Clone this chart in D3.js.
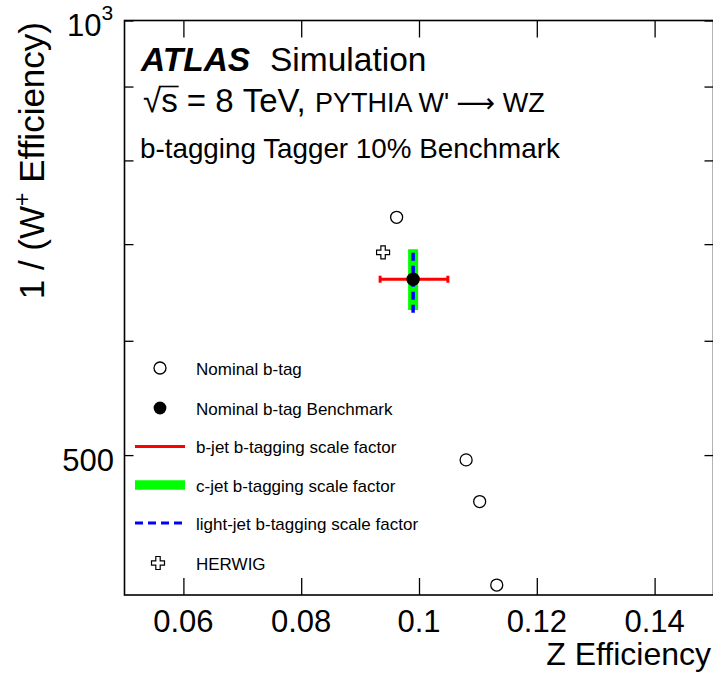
<!DOCTYPE html>
<html><head><meta charset="utf-8">
<script src="https://cdn.jsdelivr.net/npm/d3@7"></script>
<style>body{margin:0;background:#fff}svg{display:block}text{font-family:"Liberation Sans",Arial,sans-serif;fill:#000;white-space:pre}</style>
</head><body><svg id="c" width="713" height="673"></svg>
<script>
// ---- data ----
const nominalX = [0.0962, 0.1080, 0.1103, 0.1132];
const nominalY = [730.6, 496.2, 464.3, 406.4];
const benchX = [0.0990];
const benchY = [661.9];
const bjetRangeX = [0.0934, 0.1049];
const cjetRangeY = [630.2, 694.3];
const ljetRangeY = [627.5, 694.5];
const herwigX = [0.0939];
const herwigY = [690.9];
const xTicks = [0.06, 0.08, 0.1, 0.12, 0.14];
const xTickLabels = ["0.06", "0.08", "0.1", "0.12", "0.14"];
const yTicks = [500, 600, 700, 800, 900, 1000];
const legendLabels = ["Nominal b-tag", "Nominal b-tag Benchmark", "b-jet b-tagging scale factor",
  "c-jet b-tagging scale factor", "light-jet b-tagging scale factor", "HERWIG"];

// ---- layout ----
const L = 124.5, R = 713.5, T = 20.5, B = 595;
const x = d3.scaleLinear().domain([0.05, 0.15]).range([L, R]);
const y = d3.scaleLog().domain([400, 1000]).range([B, T]);
const svg = d3.select("#c");
const g = svg.append("g");

svg.append("defs").append("clipPath").attr("id","clip").append("rect")
  .attr("x",L).attr("y",T).attr("width",R-L).attr("height",B-T);

const axB = d3.axisBottom(x).tickValues(xTicks).tickSizeInner(-17).tickSizeOuter(0).tickFormat("");
const axT = d3.axisTop(x).tickValues(xTicks).tickSizeInner(-17).tickSizeOuter(0).tickFormat("");
const axL = d3.axisLeft(y).tickValues(yTicks).tickSizeInner(-9).tickSizeOuter(0).tickFormat("");
const axR = d3.axisRight(y).tickValues(yTicks).tickSizeInner(-9).tickSizeOuter(0).tickFormat("");
[[axB,`translate(0,${B})`],[axT,`translate(0,${T})`],[axL,`translate(${L},0)`],[axR,`translate(${R},0)`]]
 .forEach(([a,t])=>{const s=g.append("g").attr("transform",t).call(a);
   s.select(".domain").remove(); s.selectAll("line").attr("stroke","#000").attr("stroke-width",1.3);});

g.append("rect").attr("x",L).attr("y",T).attr("width",R-L).attr("height",B-T)
 .attr("fill","none").attr("stroke","#000").attr("stroke-width",1.6);

// tick labels
g.selectAll(".xl").data(xTicks).enter().append("text")
 .attr("x",d=>x(d)).attr("y",632).attr("text-anchor","middle").attr("font-size",31)
 .text((d,i)=>xTickLabels[i]);
g.append("text").attr("x",114).attr("y",y(500)+16).attr("text-anchor","end").attr("font-size",31).text("500");
const t10 = g.append("text").attr("x",67).attr("y",36).attr("font-size",31);
t10.append("tspan").text("10");
t10.append("tspan").attr("font-size",21).attr("dy",-16).text("3");

// axis titles
g.append("text").attr("x",711).attr("y",665).attr("text-anchor","end").attr("font-size",32).text("Z Efficiency");
const yt = g.append("text").attr("transform","translate(44,22) rotate(-90)").attr("text-anchor","end").attr("font-size",35);
yt.append("tspan").text("1 / (W");
yt.append("tspan").attr("font-size",23).attr("dy",-14).text("+");
yt.append("tspan").attr("dy",14).text(" Efficiency)");

// header texts
const h1 = g.append("text").attr("x",141).attr("y",71).attr("font-size",33.5);
h1.append("tspan").attr("font-weight","bold").attr("font-style","italic").text("ATLAS");
h1.append("tspan").attr("x",270).text("Simulation");
const sq = g.append("text").attr("x",143).attr("y",112).attr("font-size",33).text("√");
const sqw = sq.node().getComputedTextLength();
const ss = g.append("text").attr("x",143+sqw).attr("y",112).attr("font-size",33).text("s");
const ssw = ss.node().getComputedTextLength();
g.append("line").attr("x1",143+sqw-2).attr("x2",143+sqw+ssw+1).attr("y1",86.5).attr("y2",86.5).attr("stroke","#000").attr("stroke-width",1.6);
const rest = g.append("text").attr("x",143+sqw+ssw).attr("y",112).attr("font-size",33);
rest.append("tspan").text("\u00a0=\u00a08\u00a0TeV,\u00a0");
rest.append("tspan").attr("font-size",27).text("PYTHIA W'\u00a0");
rest.append("tspan").attr("font-size",27).attr("font-family","DejaVu Sans").text("\u27f6");
rest.append("tspan").attr("font-size",27).text("\u00a0WZ");
g.append("text").attr("x",140).attr("y",158).attr("font-size",27.8).text("b-tagging Tagger 10% Benchmark");

function crossPath(cx, cy){
  const h=6.5, t=2.2;
  return `M${cx-t},${cy-h}H${cx+t}V${cy-t}H${cx+h}V${cy+t}H${cx+t}V${cy+h}H${cx-t}V${cy+t}H${cx-h}V${cy-t}H${cx-t}Z`;
}

const pl = g.append("g").attr("clip-path","url(#clip)");
pl.append("line").attr("x1",x(benchX[0])).attr("x2",x(benchX[0]))
 .attr("y1",y(cjetRangeY[0])).attr("y2",y(cjetRangeY[1])).attr("stroke","#00ff00").attr("stroke-width",10);
pl.append("line").attr("x1",x(benchX[0])).attr("x2",x(benchX[0]))
 .attr("y1",y(ljetRangeY[0])).attr("y2",y(ljetRangeY[1])).attr("stroke","#0000ff").attr("stroke-width",3.5)
 .attr("stroke-dasharray","8,5");
pl.append("line").attr("x1",x(bjetRangeX[0])).attr("x2",x(bjetRangeX[1]))
 .attr("y1",y(benchY[0])).attr("y2",y(benchY[0])).attr("stroke","#ff0000").attr("stroke-width",3);
bjetRangeX.forEach(v=>pl.append("line").attr("x1",x(v)).attr("x2",x(v))
 .attr("y1",y(benchY[0])-3.5).attr("y2",y(benchY[0])+3.5).attr("stroke","#ff0000").attr("stroke-width",3));
pl.selectAll(".nom").data(nominalX).enter().append("circle")
 .attr("cx",d=>x(d)).attr("cy",(d,i)=>y(nominalY[i])).attr("r",6)
 .attr("fill","#fff").attr("stroke","#000").attr("stroke-width",1.3);
pl.selectAll(".hw").data(herwigX).enter().append("path")
 .attr("d",(d,i)=>crossPath(x(d),y(herwigY[i]))).attr("fill","#fff").attr("stroke","#000").attr("stroke-width",1.2);
pl.selectAll(".bm").data(benchX).enter().append("circle")
 .attr("cx",d=>x(d)).attr("cy",(d,i)=>y(benchY[i])).attr("r",6.7).attr("fill","#000");

// legend
const rowY = [368, 408, 446.5, 485, 523, 563];
const lg = g.append("g");
const mx = 160, lx1 = 135, lx2 = 185;
lg.append("circle").attr("cx",mx).attr("cy",rowY[0]).attr("r",6).attr("fill","#fff").attr("stroke","#000").attr("stroke-width",1.3);
lg.append("circle").attr("cx",mx).attr("cy",rowY[1]).attr("r",6.4).attr("fill","#000");
lg.append("line").attr("x1",lx1).attr("x2",lx2).attr("y1",rowY[2]).attr("y2",rowY[2]).attr("stroke","#ff0000").attr("stroke-width",3);
lg.append("line").attr("x1",lx1).attr("x2",lx2).attr("y1",rowY[3]).attr("y2",rowY[3]).attr("stroke","#00ff00").attr("stroke-width",9.5);
lg.append("line").attr("x1",lx1).attr("x2",lx2).attr("y1",rowY[4]).attr("y2",rowY[4]).attr("stroke","#0000ff").attr("stroke-width",3).attr("stroke-dasharray","8,5");
lg.append("path").attr("d",crossPath(mx-2,rowY[5])).attr("fill","#fff").attr("stroke","#000").attr("stroke-width",1.2);
lg.selectAll(".lt").data(legendLabels).enter().append("text")
 .attr("x",196).attr("y",(d,i)=>rowY[i]+6.5).attr("font-size",17).text(d=>d);
</script></body></html>
